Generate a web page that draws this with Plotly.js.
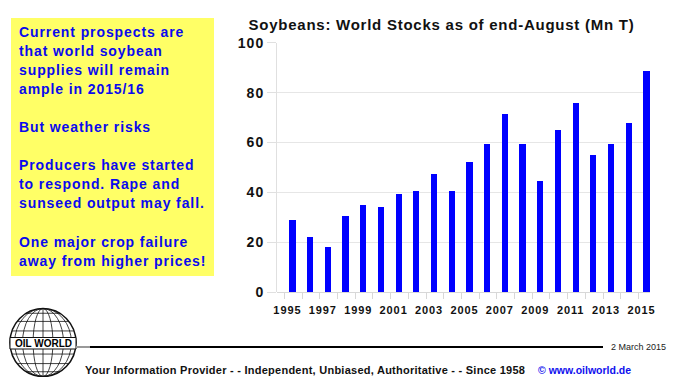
<!DOCTYPE html>
<html>
<head>
<meta charset="utf-8">
<script src="https://cdn.plot.ly/plotly-3.0.1.min.js"></script>
<style>
  html, body { margin: 0; padding: 0; background: #fff; }
  #chart { width: 673px; height: 377px; }
  .xtick text { letter-spacing: 0.9px; }
  .ytick text { letter-spacing: 1px; }
  .gtitle { letter-spacing: 0.75px; }
</style>
</head>
<body>
<div id="chart"></div>
<script>
// ---- data ----
const years = [1995, 1996, 1997, 1998, 1999, 2000, 2001, 2002, 2003, 2004, 2005,
               2006, 2007, 2008, 2009, 2010, 2011, 2012, 2013, 2014, 2015];
const stocks = [29.1, 22.3, 18.0, 30.5, 34.9, 34.3, 39.4, 40.7, 47.2, 40.7, 52.2,
                59.6, 71.6, 59.6, 44.6, 65.2, 75.9, 54.9, 59.6, 67.7, 88.7];
const xTickYears = [1995, 1997, 1999, 2001, 2003, 2005, 2007, 2009, 2011, 2013, 2015];
const yTicks = [0, 20, 40, 60, 80, 100];
const chartTitle = "Soybeans: World Stocks as of end-August (Mn T)";
const boxLines = [
  "Current prospects are",
  "that world soybean",
  "supplies will remain",
  "ample in 2015/16",
  "",
  "But weather risks",
  "",
  "Producers have started",
  "to respond. Rape and",
  "sunseed output may fall.",
  "",
  "One major crop failure",
  "away from higher prices!"
];
const logoText = "OIL WORLD";
const dateText = "2 March 2015";
const footerText = "Your Information Provider - - Independent, Unbiased, Authoritative - - Since 1958";
const footerLink = "\u00A9 www.oilworld.de";

// ---- helpers: pixel -> paper (margins are zero) ----
const W = 673, H = 377;
const px = x => x / W;
const py = y => 1 - y / H;
const FONT = "Liberation Sans, Arial, sans-serif";

const trace = {
  type: 'bar',
  x: years,
  y: stocks,
  width: 0.35,
  marker: { color: '#0000ff', line: { width: 0 } },
  hoverinfo: 'x+y'
};

const shapes = [];
const annotations = [];

// yellow text box
shapes.push({ type: 'rect', xref: 'paper', yref: 'paper',
  x0: px(11), x1: px(214), y0: py(276), y1: py(18),
  fillcolor: '#ffff66', line: { width: 0 }, layer: 'below' });

boxLines.forEach((t, i) => {
  if (!t) return;
  annotations.push({
    xref: 'paper', yref: 'paper', x: px(17), y: py(31.5 + i * 19.1),
    xanchor: 'left', yanchor: 'middle', showarrow: false,
    text: '<span style="letter-spacing:0.9px">' + t + '</span>',
    font: { family: FONT, size: 14, color: '#0a0aee', weight: 'bold' }
  });
});

// globe logo
const gcx = 43, gcy = 342.5, grx = 33, gry = 34;
shapes.push({ type: 'circle', xref: 'paper', yref: 'paper',
  x0: px(gcx - grx), x1: px(gcx + grx), y0: py(gcy + gry), y1: py(gcy - gry),
  line: { color: '#111', width: 1.5 }, fillcolor: 'rgba(0,0,0,0)' });
[0.3, 0.62, 0.86].forEach(f => {
  shapes.push({ type: 'circle', xref: 'paper', yref: 'paper',
    x0: px(gcx - grx * f), x1: px(gcx + grx * f), y0: py(gcy + gry), y1: py(gcy - gry),
    line: { color: '#111', width: 0.8 }, fillcolor: 'rgba(0,0,0,0)' });
});
shapes.push({ type: 'line', xref: 'paper', yref: 'paper',
  x0: px(gcx), x1: px(gcx), y0: py(gcy + gry), y1: py(gcy - gry),
  line: { color: '#111', width: 0.8 } });
[-0.86, -0.62, -0.34, 0.34, 0.62, 0.86].forEach(f => {
  const hw = grx * Math.sqrt(1 - f * f);
  shapes.push({ type: 'line', xref: 'paper', yref: 'paper',
    x0: px(gcx - hw), x1: px(gcx + hw), y0: py(gcy + gry * f), y1: py(gcy + gry * f),
    line: { color: '#111', width: 0.8 } });
});
shapes.push({ type: 'rect', xref: 'paper', yref: 'paper',
  x0: px(10), x1: px(76), y0: py(349), y1: py(337.5),
  fillcolor: '#ffffff', line: { color: '#111', width: 1 } });
annotations.push({ xref: 'paper', yref: 'paper', x: px(43), y: py(343.5),
  xanchor: 'center', yanchor: 'middle', showarrow: false, text: logoText,
  font: { family: FONT, size: 10, color: '#000', weight: 'bold' } });

// footer rule
shapes.push({ type: 'line', xref: 'paper', yref: 'paper',
  x0: px(76), x1: px(90), y0: py(347), y1: py(347), line: { color: '#999', width: 2 } });
shapes.push({ type: 'line', xref: 'paper', yref: 'paper',
  x0: px(90), x1: px(603), y0: py(347), y1: py(347), line: { color: '#000', width: 2 } });

annotations.push({ xref: 'paper', yref: 'paper', x: px(609), y: py(347),
  xanchor: 'left', yanchor: 'middle', showarrow: false, text: dateText,
  font: { family: FONT, size: 9, color: '#222' } });
annotations.push({ xref: 'paper', yref: 'paper', x: px(83), y: py(369.5),
  xanchor: 'left', yanchor: 'middle', showarrow: false,
  text: '<span style="letter-spacing:0.25px">' + footerText + '</span>',
  font: { family: FONT, size: 11, color: '#111', weight: 'bold' } });
annotations.push({ xref: 'paper', yref: 'paper', x: px(536), y: py(369.5),
  xanchor: 'left', yanchor: 'middle', showarrow: false, text: footerLink,
  font: { family: FONT, size: 10.5, color: '#1010ee', weight: 'bold' } });

const layout = {
  width: W, height: H,
  margin: { l: 0, r: 0, t: 0, b: 0, pad: 0 },
  paper_bgcolor: '#ffffff', plot_bgcolor: '#ffffff',
  showlegend: false,
  title: {
    text: chartTitle, xref: 'container', yref: 'container',
    x: px(441.5), y: py(24.5), xanchor: 'center', yanchor: 'middle',
    font: { family: FONT, size: 15, color: '#111', weight: 'bold' }
  },
  xaxis: {
    domain: [px(277), px(650)],
    range: [1994.13, 2015.2],
    tickmode: 'array', tickvals: xTickYears, ticktext: xTickYears.map(String),
    ticks: 'outside', ticklen: 7, tickcolor: 'rgba(0,0,0,0)',
    ticklabelshift: -5,
    tickfont: { family: FONT, size: 11, color: '#111', weight: 'bold' },
    showgrid: false, zeroline: false, showline: false,
    minor: { tick0: 1994.55, dtick: 1, ticks: 'outside', ticklen: 6, tickcolor: '#d8d8d8', tickwidth: 1, showgrid: false },
    fixedrange: true
  },
  yaxis: {
    domain: [py(292.3), py(42.7)],
    range: [0, 100],
    tickmode: 'array', tickvals: yTicks, ticktext: yTicks.map(String),
    ticks: 'outside', ticklen: 9, tickcolor: '#e0e0e0', tickwidth: 1,
    tickfont: { family: FONT, size: 14, color: '#111', weight: 'bold' },
    showgrid: true, gridcolor: '#e6e6e6', gridwidth: 1,
    zeroline: true, zerolinecolor: '#d8d8d8', zerolinewidth: 1,
    showline: true, linecolor: '#e0e0e0', linewidth: 1,
    fixedrange: true
  },
  shapes: shapes,
  annotations: annotations,
  bargap: 0
};

Plotly.newPlot('chart', [trace], layout, { displayModeBar: false, staticPlot: true });
</script>
</body>
</html>
